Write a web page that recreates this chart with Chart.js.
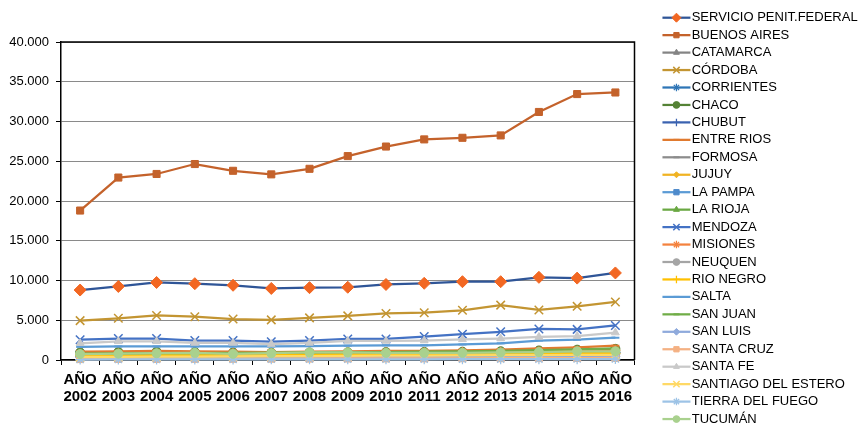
<!DOCTYPE html>
<html lang="es">
<head>
<meta charset="utf-8">
<title>Población penal por jurisdicción 2002-2016</title>
<script src="https://cdn.jsdelivr.net/npm/chart.js@4/dist/chart.umd.min.js"></script>
<style>
  html, body { margin: 0; padding: 0; background: #ffffff; }
  #wrap { width: 860px; height: 425px; }
</style>
</head>
<body>
<div id="wrap"><canvas id="chart" width="860" height="425"></canvas></div>
<script>
// Años del período
const years = [2002, 2003, 2004, 2005, 2006, 2007, 2008, 2009, 2010, 2011, 2012, 2013, 2014, 2015, 2016];
const yearLabels = years.map(y => ['AÑO', String(y)]);

// Eje de valores
const yMin = 0;
const yMax = 40000;
const yStep = 5000;

// Personas alojadas por jurisdicción y año
const servicioPenitFederal = [8800, 9250, 9750, 9600, 9400, 9000, 9100, 9150, 9500, 9650, 9850, 9850, 10400, 10300, 10950];
const buenosAires = [18800, 22950, 23400, 24650, 23800, 23350, 24050, 25650, 26850, 27750, 27950, 28250, 31200, 33450, 33650];
const catamarca = [350, 360, 370, 380, 390, 400, 410, 420, 430, 440, 460, 480, 500, 520, 540];
const cordoba = [4950, 5250, 5600, 5450, 5150, 5050, 5300, 5550, 5850, 5950, 6250, 6900, 6300, 6750, 7300];
const corrientes = [600, 620, 640, 650, 660, 650, 660, 680, 700, 720, 740, 760, 800, 850, 900];
const chaco = [950, 1000, 1050, 1000, 950, 920, 950, 980, 1000, 1020, 1050, 1100, 1200, 1300, 1400];
const chubut = [450, 480, 500, 520, 540, 560, 580, 600, 650, 700, 750, 800, 850, 900, 950];
const entreRios = [1050, 1100, 1150, 1100, 1050, 1000, 1050, 1100, 1150, 1150, 1200, 1300, 1450, 1600, 1800];
const formosa = [400, 420, 430, 440, 450, 460, 470, 480, 490, 500, 520, 540, 560, 580, 600];
const jujuy = [450, 470, 500, 520, 540, 560, 580, 600, 620, 650, 680, 720, 760, 800, 850];
const laPampa = [200, 210, 220, 230, 240, 250, 260, 270, 280, 290, 300, 310, 320, 330, 340];
const laRioja = [250, 260, 270, 280, 290, 300, 310, 320, 330, 340, 350, 360, 380, 400, 420];
const mendoza = [2550, 2700, 2700, 2450, 2450, 2300, 2450, 2650, 2650, 2950, 3250, 3550, 3900, 3850, 4350];
const misiones = [800, 830, 860, 880, 900, 900, 920, 940, 960, 980, 1000, 1050, 1100, 1150, 1200];
const neuquen = [500, 520, 540, 560, 580, 600, 620, 640, 660, 680, 700, 720, 740, 760, 780];
const rioNegro = [550, 570, 600, 620, 640, 660, 680, 700, 720, 740, 760, 780, 800, 820, 840];
const salta = [1650, 1700, 1700, 1700, 1700, 1700, 1750, 1800, 1850, 1850, 1950, 2100, 2450, 2550, 2800];
const sanJuan = [800, 830, 860, 880, 900, 920, 950, 980, 1000, 1050, 1100, 1150, 1250, 1350, 1450];
const sanLuis = [300, 310, 320, 330, 340, 350, 360, 370, 380, 390, 400, 410, 420, 430, 440];
const santaCruz = [120, 130, 140, 150, 160, 170, 180, 190, 200, 210, 220, 230, 240, 250, 260];
const santaFe = [2100, 2350, 2350, 2150, 2150, 2000, 2150, 2400, 2400, 2450, 2600, 2700, 2900, 3000, 3450];
const santiagoDelEstero = [380, 400, 420, 440, 460, 480, 500, 520, 540, 560, 580, 600, 620, 640, 660];
const tierraDelFuego = [60, 65, 70, 70, 75, 80, 80, 85, 90, 90, 95, 100, 105, 110, 115];
const tucuman = [750, 800, 850, 900, 780, 850, 950, 950, 900, 900, 900, 950, 1000, 1100, 1100];

// Nombres de las series, en el orden de la leyenda
const seriesNames = [
  'SERVICIO PENIT.FEDERAL', 'BUENOS AIRES', 'CATAMARCA', 'CÓRDOBA', 'CORRIENTES', 'CHACO',
  'CHUBUT', 'ENTRE RIOS', 'FORMOSA', 'JUJUY', 'LA PAMPA', 'LA RIOJA', 'MENDOZA', 'MISIONES',
  'NEUQUEN', 'RIO NEGRO', 'SALTA', 'SAN JUAN', 'SAN LUIS', 'SANTA CRUZ', 'SANTA FE',
  'SANTIAGO DEL ESTERO', 'TIERRA DEL FUEGO', 'TUCUMÁN'
];
const seriesValues = [
  servicioPenitFederal, buenosAires, catamarca, cordoba, corrientes, chaco,
  chubut, entreRios, formosa, jujuy, laPampa, laRioja, mendoza, misiones,
  neuquen, rioNegro, salta, sanJuan, sanLuis, santaCruz, santaFe,
  santiagoDelEstero, tierraDelFuego, tucuman
];

// Aspecto de cada serie: color de línea, color de marcador, forma, radio, grosor del trazo del marcador
const seriesLook = [
  { line: '#2F5597', mark: '#F26722', shape: 'rectRot',  r: 6,   bw: 1 },
  { line: '#C4622B', mark: '#C4622B', shape: 'rect',     r: 5,   bw: 1 },
  { line: '#848484', mark: '#848484', shape: 'triangle', r: 4.5, bw: 1 },
  { line: '#C39532', mark: '#C39532', shape: 'crossRot', r: 6,   bw: 1.5 },
  { line: '#2E75B6', mark: '#2E75B6', shape: 'star',     r: 5,   bw: 1.25 },
  { line: '#548235', mark: '#548235', shape: 'circle',   r: 4.5, bw: 1 },
  { line: '#3A62B0', mark: '#3A62B0', shape: 'cross',    r: 5,   bw: 1.25 },
  { line: '#E07A2F', mark: '#E07A2F', shape: 'line',     r: 4,   bw: 2 },
  { line: '#8C8C8C', mark: '#8C8C8C', shape: 'line',     r: 4,   bw: 2 },
  { line: '#F0B323', mark: '#F0B323', shape: 'rectRot',  r: 4,   bw: 1 },
  { line: '#5B9BD5', mark: '#4E8ACB', shape: 'rect',     r: 5,   bw: 1 },
  { line: '#6AA843', mark: '#6AA843', shape: 'triangle', r: 4.5, bw: 1 },
  { line: '#4472C4', mark: '#4472C4', shape: 'crossRot', r: 6,   bw: 1.5 },
  { line: '#F4823E', mark: '#F4823E', shape: 'star',     r: 5,   bw: 1.25 },
  { line: '#A5A5A5', mark: '#A5A5A5', shape: 'circle',   r: 4.5, bw: 1 },
  { line: '#FFC000', mark: '#FFC000', shape: 'cross',    r: 5,   bw: 1.25 },
  { line: '#5B9BD5', mark: '#5B9BD5', shape: 'line',     r: 4,   bw: 2 },
  { line: '#70AD47', mark: '#70AD47', shape: 'line',     r: 4,   bw: 2 },
  { line: '#8FAADC', mark: '#8FAADC', shape: 'rectRot',  r: 4.5, bw: 1 },
  { line: '#F4B183', mark: '#F4B183', shape: 'rect',     r: 5,   bw: 1 },
  { line: '#C9C9C9', mark: '#C9C9C9', shape: 'triangle', r: 4.5, bw: 1 },
  { line: '#FFD966', mark: '#FFD966', shape: 'crossRot', r: 6,   bw: 1.5 },
  { line: '#9DC3E6', mark: '#9DC3E6', shape: 'star',     r: 5,   bw: 1.25 },
  { line: '#A9D18E', mark: '#A9D18E', shape: 'circle',   r: 4.5, bw: 1 }
];

const datasets = seriesNames.map((name, i) => {
  const look = seriesLook[i];
  return {
    label: name,
    data: seriesValues[i],
    borderColor: look.line,
    backgroundColor: look.mark,
    borderWidth: 2.25,
    tension: 0,
    fill: false,
    clip: false,
    order: -i,               // las series posteriores se dibujan encima
    pointStyle: look.shape,
    pointRadius: look.r,
    pointHoverRadius: look.r,
    pointBackgroundColor: look.mark,
    pointBorderColor: look.mark,
    pointBorderWidth: look.bw
  };
});

// Leyenda con línea y marcador, como en las planillas de cálculo
const legendGlyphs = {
  id: 'legendGlyphs',
  afterDraw(chart) {
    const legend = chart.legend;
    if (!legend || !legend.legendHitBoxes) return;
    const ctx = chart.ctx;
    legend.legendItems.forEach((item, k) => {
      const hb = legend.legendHitBoxes[k];
      if (!hb) return;
      const look = seriesLook[item.datasetIndex];
      const cy = hb.top + hb.height / 2;
      const x0 = hb.left + 1;
      const x1 = hb.left + 29;
      ctx.save();
      ctx.strokeStyle = look.line;
      ctx.lineWidth = 2.25;
      ctx.beginPath();
      ctx.moveTo(x0, cy);
      ctx.lineTo(x1, cy);
      ctx.stroke();
      ctx.fillStyle = look.mark;
      ctx.strokeStyle = look.mark;
      ctx.lineWidth = look.bw;
      const radius = look.r * 0.75;
      if (Chart.helpers && Chart.helpers.drawPoint) {
        Chart.helpers.drawPoint(ctx, { pointStyle: look.shape, radius: radius, rotation: 0, borderWidth: look.bw }, (x0 + x1) / 2, cy);
      }
      ctx.restore();
    });
  }
};

// Marco negro alrededor del área de trazado (lados superior y derecho)
const frameLines = {
  id: 'frameLines',
  beforeDatasetsDraw(chart) {
    const a = chart.chartArea;
    const ctx = chart.ctx;
    ctx.save();
    ctx.strokeStyle = '#000000';
    ctx.lineWidth = 1.5;
    ctx.beginPath();
    ctx.moveTo(a.left, a.top);
    ctx.lineTo(a.right, a.top);
    ctx.lineTo(a.right, a.bottom);
    ctx.stroke();
    ctx.restore();
  }
};

const fontFamily = "'Liberation Sans', Arial, Helvetica, sans-serif";

new Chart(document.getElementById('chart'), {
  type: 'line',
  data: { labels: yearLabels, datasets: datasets },
  options: {
    responsive: false,
    animation: false,
    events: [],
    layout: { padding: { top: 8.25, bottom: -10, left: 0, right: 0 } },
    plugins: {
      tooltip: { enabled: false },
      legend: {
        position: 'right',
        align: 'start',
        maxWidth: 200,
        labels: {
          boxWidth: 23.75,
          boxHeight: 16,
          padding: 1.45,
          color: '#000000',
          font: { family: fontFamily, size: 13 },
          sort: (a, b) => a.datasetIndex - b.datasetIndex,
          generateLabels(chart) {
            const items = Chart.defaults.plugins.legend.labels.generateLabels(chart);
            items.forEach(it => {
              it.fillStyle = 'rgba(0,0,0,0)';
              it.strokeStyle = 'rgba(0,0,0,0)';
              it.lineWidth = 0;
            });
            return items;
          }
        }
      }
    },
    scales: {
      x: {
        type: 'category',
        position: 'bottom',
        offset: true,
        afterFit(scale) { scale.height = 75; },
        grid: {
          offset: true,
          drawOnChartArea: false,
          drawTicks: true,
          tickLength: 5,
          tickColor: '#000000'
        },
        border: { display: true, color: '#000000', width: 1.5 },
        ticks: {
          autoSkip: false,
          maxRotation: 0,
          minRotation: 0,
          padding: 6,
          color: '#000000',
          font: { family: fontFamily, size: 15, weight: 'bold', lineHeight: 1.15 }
        }
      },
      xTop: {
        type: 'category',
        position: 'top',
        afterFit(scale) { scale.height = 33.75; },
        grid: { display: false, drawOnChartArea: false, drawTicks: false },
        border: { display: false },
        ticks: { display: false }
      },
      y: {
        type: 'linear',
        position: 'left',
        min: yMin,
        max: yMax,
        afterFit(scale) { scale.width = 61; },
        grid: {
          color: '#8A8A8A',
          lineWidth: 1,
          drawTicks: true,
          tickLength: 5,
          tickColor: '#000000'
        },
        border: { display: true, color: '#000000', width: 1.5 },
        ticks: {
          stepSize: yStep,
          padding: 7,
          color: '#000000',
          font: { family: fontFamily, size: 13 },
          callback: v => (v === 0 ? '0' : (v / 1000).toFixed(3))
        }
      },
      yRight: {
        type: 'linear',
        position: 'right',
        afterFit(scale) { scale.width = 25.5; },
        grid: { display: false, drawOnChartArea: false, drawTicks: false },
        border: { display: false },
        ticks: { display: false }
      }
    }
  },
  plugins: [legendGlyphs, frameLines]
});
</script>
</body>
</html>
